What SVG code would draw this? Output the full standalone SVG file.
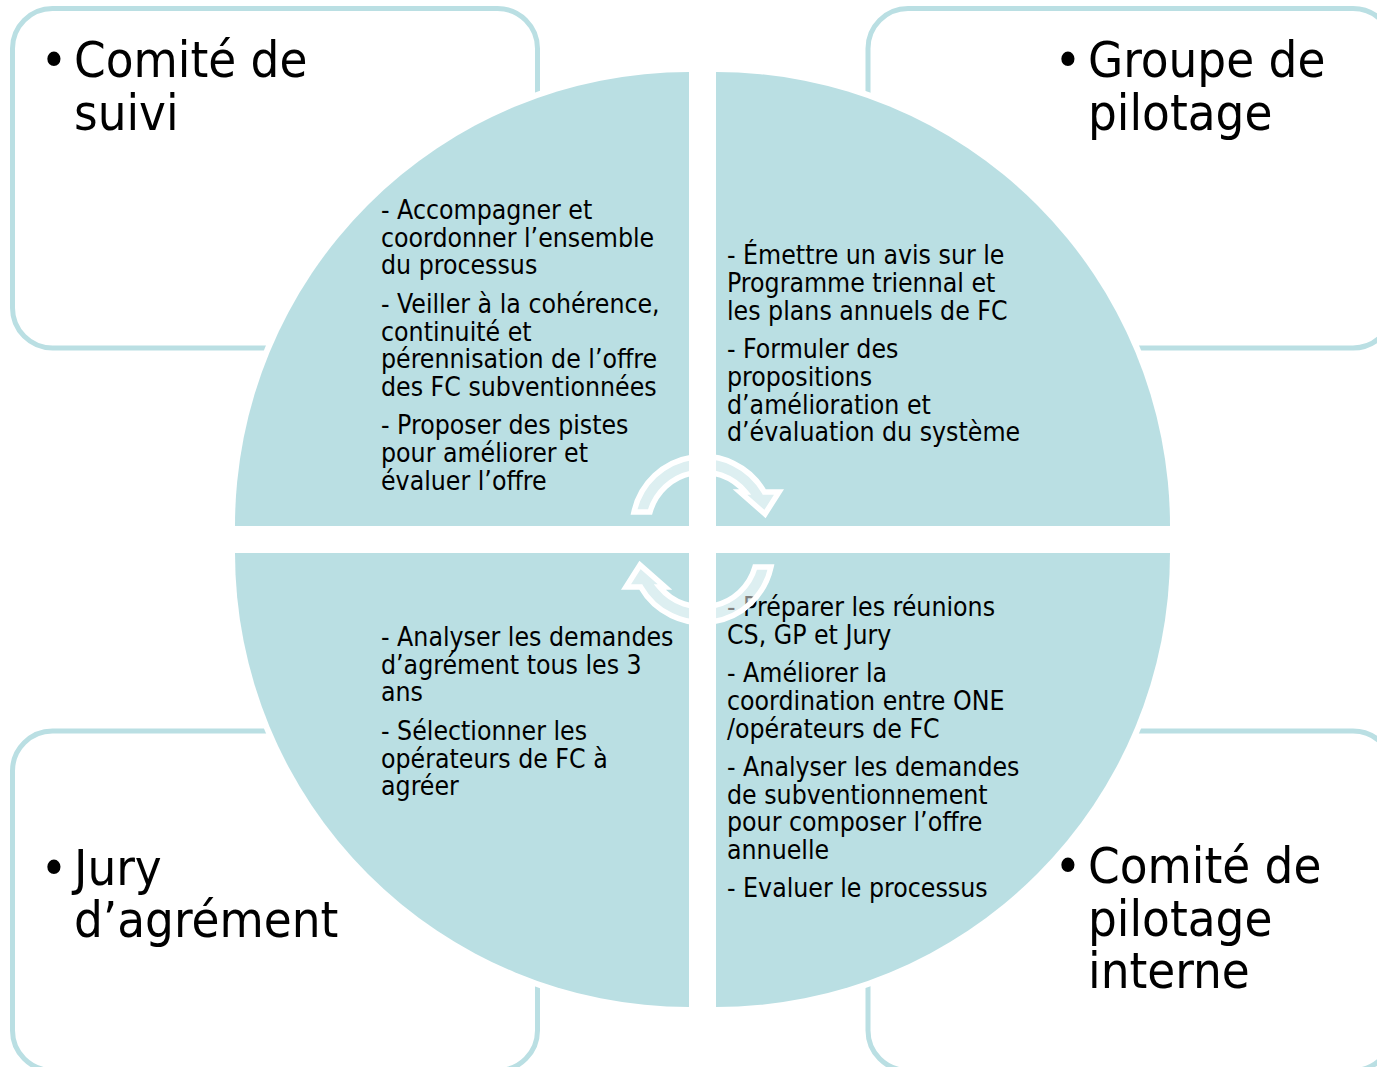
<svg xmlns="http://www.w3.org/2000/svg" width="1377" height="1067" viewBox="0 0 1377 1067">
<defs>
<style>
.box{fill:#ffffff;stroke:#badfe3;stroke-width:5}
.quad{fill:#badfe3;stroke:#ffffff;stroke-width:12;paint-order:stroke fill}
.title{font-family:"DejaVu Sans Condensed","DejaVu Sans",sans-serif;font-size:50.5px;fill:#000000}
.body{font-family:"DejaVu Sans Condensed","DejaVu Sans",sans-serif;font-size:26.4px;fill:#000000}
.arrow{fill:#ffffff;fill-opacity:0.5;stroke:#ffffff;stroke-width:5.5;stroke-linejoin:miter}
</style>
<path id="arw" d="M 634,512 A 70.6 70.6 0 0 1 764.3,492 L 779,492 L 765,514 L 740,492 L 745.4,492 A 55 55 0 0 0 650,512 Z"/>
</defs>
<rect width="1377" height="1067" fill="#ffffff"/>
<g id="box-comite-suivi"><rect class="box" x="12.5" y="8.5" width="525" height="339.5" rx="40"/></g>
<g id="box-groupe-pilotage"><rect class="box" x="868" y="8.5" width="525" height="339.5" rx="40"/></g>
<g id="box-jury"><rect class="box" x="12.5" y="731" width="525" height="339.5" rx="40"/></g>
<g id="box-comite-interne"><rect class="box" x="868" y="731" width="525" height="339.5" rx="40"/></g>

<g id="quad-tl"><path class="quad" d="M 689,526 L 235,526 A 454 454 0 0 1 689,72 Z"/></g>
<g id="quad-tr"><path class="quad" d="M 716,526 L 716,72 A 454 454 0 0 1 1170,526 Z"/></g>
<g id="quad-br"><path class="quad" d="M 716,553 L 1170,553 A 454 454 0 0 1 716,1007 Z"/></g>
<g id="quad-bl"><path class="quad" d="M 689,553 L 689,1007 A 454 454 0 0 1 235,553 Z"/></g>

<g id="title-comite-suivi" class="title">
<text x="54" y="77" text-anchor="middle">•</text>
<text x="74" y="77">Comité de</text>
<text x="74" y="129.5">suivi</text>
</g>
<g id="title-groupe-pilotage" class="title">
<text x="1068" y="77" text-anchor="middle">•</text>
<text x="1088" y="77">Groupe de</text>
<text x="1088" y="129.5">pilotage</text>
</g>
<g id="title-jury" class="title">
<text x="54" y="884.5" text-anchor="middle">•</text>
<text x="74" y="884.5">Jury</text>
<text x="74" y="937">d’agrément</text>
</g>
<g id="title-comite-interne" class="title">
<text x="1068" y="883" text-anchor="middle">•</text>
<text x="1088" y="883">Comité de</text>
<text x="1088" y="935.5">pilotage</text>
<text x="1088" y="988">interne</text>
</g>

<g id="text-tl" class="body">
<text x="381" y="219">- Accompagner et</text>
<text x="381" y="246.7">coordonner l’ensemble</text>
<text x="381" y="274.4">du processus</text>
<text x="381" y="312.8">- Veiller à la cohérence,</text>
<text x="381" y="340.5">continuité et</text>
<text x="381" y="368.2">pérennisation de l’offre</text>
<text x="381" y="395.9">des FC subventionnées</text>
<text x="381" y="434.3">- Proposer des pistes</text>
<text x="381" y="462">pour améliorer et</text>
<text x="381" y="489.7">évaluer l’offre</text>
</g>
<g id="text-tr" class="body">
<text x="727" y="264.3">- Émettre un avis sur le</text>
<text x="727" y="292">Programme triennal et</text>
<text x="727" y="319.7">les plans annuels de FC</text>
<text x="727" y="358.1">- Formuler des</text>
<text x="727" y="385.8">propositions</text>
<text x="727" y="413.5">d’amélioration et</text>
<text x="727" y="441.2">d’évaluation du système</text>
</g>
<g id="text-bl" class="body">
<text x="381" y="646">- Analyser les demandes</text>
<text x="381" y="673.7">d’agrément tous les 3</text>
<text x="381" y="701.4">ans</text>
<text x="381" y="739.8">- Sélectionner les</text>
<text x="381" y="767.5">opérateurs de FC à</text>
<text x="381" y="795.2">agréer</text>
</g>
<g id="text-br" class="body">
<text x="727" y="616">- Préparer les réunions</text>
<text x="727" y="643.7">CS, GP et Jury</text>
<text x="727" y="682.1">- Améliorer la</text>
<text x="727" y="709.8">coordination entre ONE</text>
<text x="727" y="737.5">/opérateurs de FC</text>
<text x="727" y="775.9">- Analyser les demandes</text>
<text x="727" y="803.6">de subventionnement</text>
<text x="727" y="831.3">pour composer l’offre</text>
<text x="727" y="859">annuelle</text>
<text x="727" y="897.4">- Evaluer le processus</text>
</g>

<g id="connectors">
<use href="#arw" class="arrow"/>
<use href="#arw" class="arrow" transform="rotate(180 702.5 539.5)"/>
</g>
</svg>
